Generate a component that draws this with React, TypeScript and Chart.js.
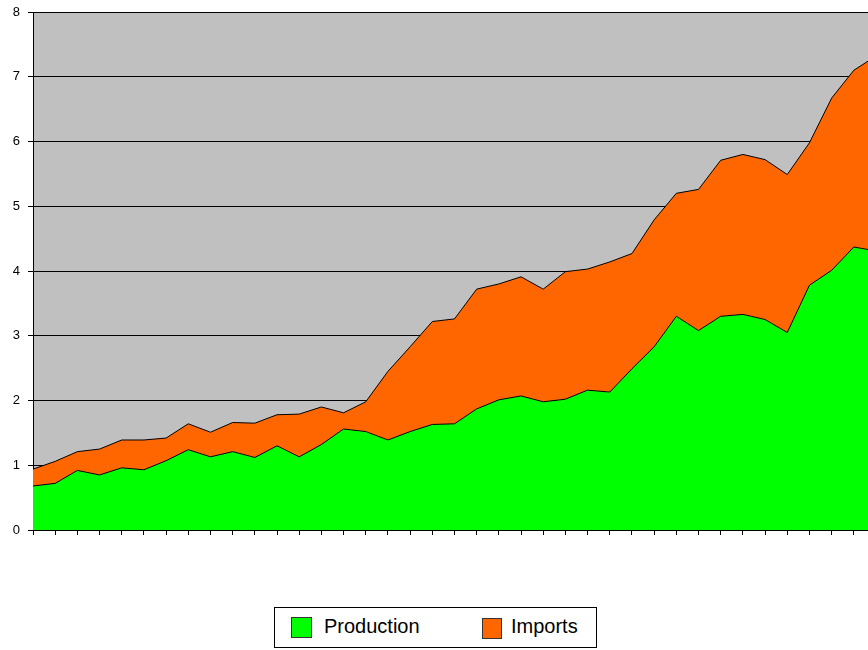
import React, { useEffect, useRef } from "react";
import { Chart, registerables } from "chart.js";

Chart.register(...registerables);

const categories = [
  "1", "2", "3", "4", "5", "6", "7", "8", "9", "10",
  "11", "12", "13", "14", "15", "16", "17", "18", "19", "20",
  "21", "22", "23", "24", "25", "26", "27", "28", "29", "30",
  "31", "32", "33", "34", "35", "36", "37", "38", "39",
];

const production = [
  0.68, 0.72, 0.92, 0.85, 0.96, 0.93, 1.07, 1.24, 1.13, 1.21,
  1.12, 1.3, 1.13, 1.32, 1.56, 1.52, 1.39, 1.52, 1.63, 1.64,
  1.87, 2.01, 2.07, 1.98, 2.02, 2.16, 2.13, 2.49, 2.83, 3.3,
  3.08, 3.3, 3.33, 3.25, 3.05, 3.78, 4.01, 4.37, 4.31,
];

const imports = [
  0.26, 0.34, 0.29, 0.4, 0.43, 0.46, 0.35, 0.4, 0.38, 0.45,
  0.53, 0.48, 0.66, 0.58, 0.25, 0.46, 1.06, 1.31, 1.59, 1.62,
  1.85, 1.79, 1.84, 1.74, 1.97, 1.87, 2.01, 1.78, 1.96, 1.9,
  2.18, 2.41, 2.47, 2.47, 2.44, 2.2, 2.66, 2.73, 3.01,
];

const seriesNames = ["Production", "Imports"];
const seriesColors = ["#00FF00", "#FF6600"];

const FONT = "'Liberation Sans', Arial, sans-serif";

const plotBackground = {
  id: "plotBackground",
  beforeDraw(chart: any) {
    const { ctx, chartArea } = chart;
    ctx.save();
    ctx.fillStyle = "#C0C0C0";
    ctx.fillRect(chartArea.left, chartArea.top, chartArea.right - chartArea.left, chartArea.bottom - chartArea.top);
    ctx.restore();
  },
};

export default function App() {
  const ref = useRef<HTMLCanvasElement | null>(null);

  useEffect(() => {
    if (!ref.current) return;
    const chart = new Chart(ref.current, {
      type: "line",
      data: {
        labels: categories,
        datasets: [
          {
            label: seriesNames[0],
            data: production,
            backgroundColor: seriesColors[0],
            borderColor: "#000000",
            borderWidth: 1,
            pointRadius: 0,
            tension: 0,
            fill: "origin",
          },
          {
            label: seriesNames[1],
            data: imports,
            backgroundColor: seriesColors[1],
            borderColor: "#000000",
            borderWidth: 1,
            pointRadius: 0,
            tension: 0,
            fill: "-1",
          },
        ],
      },
      options: {
        responsive: false,
        animation: false,
        layout: { padding: { top: 12, right: 4, bottom: 115, left: 0 } },
        plugins: {
          legend: { display: false },
          tooltip: { enabled: false },
        },
        scales: {
          x: {
            offset: false,
            grid: { drawOnChartArea: false, color: "#000000", tickLength: 5 },
            border: { color: "#000000", width: 1 },
            ticks: { display: false },
          },
          y: {
            stacked: true,
            min: 0,
            max: 8,
            afterFit(scale: any) {
              scale.width = 33;
              scale.paddingTop = 0;
              scale.paddingBottom = 0;
            },
            ticks: {
              stepSize: 1,
              color: "#000000",
              padding: 8,
              font: { family: FONT, size: 13 },
            },
            grid: { color: "#000000", tickLength: 5 },
            border: { color: "#000000", width: 1 },
          },
        },
      },
      plugins: [plotBackground],
    });
    return () => chart.destroy();
  }, []);

  return (
    <div style={{ position: "fixed", left: 0, top: 0, width: 868, height: 650, overflow: "hidden", background: "#fff" }}>
      <canvas ref={ref} width={880} height={650} style={{ display: "block" }} />
      <div
        style={{
          position: "absolute",
          left: 274,
          top: 607,
          width: 323,
          height: 41,
          boxSizing: "border-box",
          border: "1px solid #000",
          background: "#fff",
          fontFamily: FONT,
          fontSize: 20,
          lineHeight: "20px",
          color: "#000",
        }}
      >
        <div style={{ position: "absolute", left: 16, top: 9, width: 21, height: 21, boxSizing: "border-box", border: "1px solid #333", background: seriesColors[0] }} />
        <div style={{ position: "absolute", left: 49, top: 8, whiteSpace: "nowrap" }}>{seriesNames[0]}</div>
        <div style={{ position: "absolute", left: 207, top: 10, width: 20, height: 21, boxSizing: "border-box", border: "1px solid #333", background: seriesColors[1] }} />
        <div style={{ position: "absolute", left: 236, top: 8, whiteSpace: "nowrap" }}>{seriesNames[1]}</div>
      </div>
    </div>
  );
}
